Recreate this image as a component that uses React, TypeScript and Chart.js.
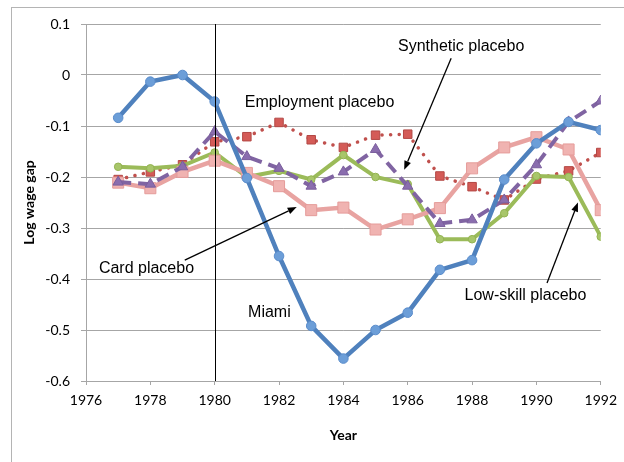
import React, { useEffect, useRef } from "react";
import { Chart, registerables } from "chart.js";

Chart.register(...registerables);

const years = [1977, 1978, 1979, 1980, 1981, 1982, 1983, 1984, 1985, 1986, 1987, 1988, 1989, 1990, 1991, 1992];
const miami = [-0.084, -0.013, 0.0, -0.052, -0.202, -0.355, -0.492, -0.556, -0.5, -0.466, -0.382, -0.363, -0.205, -0.134, -0.092, -0.108];
const employmentPlacebo = [-0.205, -0.19, -0.176, -0.131, -0.121, -0.093, -0.127, -0.142, -0.118, -0.116, -0.198, -0.219, -0.245, -0.204, -0.188, -0.152];
const syntheticPlacebo = [-0.21, -0.214, -0.18, -0.111, -0.16, -0.183, -0.218, -0.19, -0.146, -0.218, -0.291, -0.284, -0.245, -0.176, -0.092, -0.051];
const lowSkillPlacebo = [-0.18, -0.183, -0.178, -0.152, -0.2, -0.188, -0.205, -0.157, -0.2, -0.214, -0.322, -0.322, -0.271, -0.198, -0.2, -0.317];
const cardPlacebo = [-0.211, -0.222, -0.19, -0.168, -0.192, -0.218, -0.265, -0.26, -0.303, -0.283, -0.261, -0.183, -0.142, -0.122, -0.146, -0.265];

const xTicks = { min: 1976, max: 1992, step: 2 };
const yTicks = { min: -0.6, max: 0.1, step: 0.1 };
const treatmentYear = 1980;

// annotation labels in data coordinates
const labels = [
  { text: "Synthetic placebo", x: 1987.66, y: 0.055 },
  { text: "Employment placebo", x: 1983.26, y: -0.054 },
  { text: "Card placebo", x: 1977.88, y: -0.38 },
  { text: "Miami", x: 1981.7, y: -0.465 },
  { text: "Low-skill placebo", x: 1989.66, y: -0.433 },
];
const arrows = [
  { x1: 1987.35, y1: 0.033, x2: 1985.89, y2: -0.186 },
  { x1: 1979.07, y1: -0.363, x2: 1982.55, y2: -0.259 },
  { x1: 1990.33, y1: -0.408, x2: 1991.29, y2: -0.25 },
];

const pts = (vals: number[]) => vals.map((v, i) => ({ x: years[i], y: v }));

export default function App() {
  const ref = useRef<HTMLCanvasElement | null>(null);

  useEffect(() => {
    document.body.style.margin = "0";
    const canvas = ref.current;
    if (!canvas) return;

    const overlay = {
      id: "overlay",
      afterDatasetsDraw(chart: any) {
        const ctx = chart.ctx;
        const xs = chart.scales.x;
        const ys = chart.scales.y;
        const area = chart.chartArea;
        ctx.save();
        // treatment year line
        const vx = Math.round(xs.getPixelForValue(treatmentYear)) + 0.5;
        ctx.strokeStyle = "#000";
        ctx.lineWidth = 1;
        ctx.beginPath();
        ctx.moveTo(vx, area.top);
        ctx.lineTo(vx, area.bottom);
        ctx.stroke();
        ctx.restore();
      },
      afterDraw(chart: any) {
        const ctx = chart.ctx;
        const xs = chart.scales.x;
        const ys = chart.scales.y;
        const area = chart.chartArea;
        ctx.save();
        ctx.fillStyle = "#000";
        ctx.font = '16px "Liberation Sans", Arial, sans-serif';
        ctx.textAlign = "center";
        ctx.textBaseline = "middle";
        for (const l of labels) {
          ctx.fillText(l.text, xs.getPixelForValue(l.x), ys.getPixelForValue(l.y));
        }
        ctx.strokeStyle = "#000";
        ctx.lineWidth = 1.3;
        for (const a of arrows) {
          const x1 = xs.getPixelForValue(a.x1);
          const y1 = ys.getPixelForValue(a.y1);
          const x2 = xs.getPixelForValue(a.x2);
          const y2 = ys.getPixelForValue(a.y2);
          const ang = Math.atan2(y2 - y1, x2 - x1);
          const hl = 9;
          const hw = 3.5;
          const bx = x2 - hl * Math.cos(ang);
          const by = y2 - hl * Math.sin(ang);
          ctx.beginPath();
          ctx.moveTo(x1, y1);
          ctx.lineTo(bx, by);
          ctx.stroke();
          ctx.beginPath();
          ctx.moveTo(x2, y2);
          ctx.lineTo(bx + hw * Math.sin(ang), by - hw * Math.cos(ang));
          ctx.lineTo(bx - hw * Math.sin(ang), by + hw * Math.cos(ang));
          ctx.closePath();
          ctx.fill();
        }
        // axis titles
        ctx.font = 'bold 14px Lato, "Open Sans", sans-serif';
        ctx.fillText("Year", (area.left + area.right) / 2, 435);
        ctx.translate(29, (area.top + area.bottom) / 2);
        ctx.rotate(-Math.PI / 2);
        ctx.fillText("Log wage gap", 0, 0);
        ctx.restore();
      },
    };

    const chart = new Chart(canvas, {
      type: "line",
      data: {
        datasets: [
          {
            label: "Miami",
            data: pts(miami),
            borderColor: "#4F81BD",
            borderWidth: 4.5,
            pointStyle: "circle",
            pointRadius: 4.8,
            pointBackgroundColor: "#6C9ED8",
            pointBorderColor: "#5A8CCB",
            pointBorderWidth: 1,
            order: 0,
          },
          {
            label: "Synthetic placebo",
            data: pts(syntheticPlacebo),
            borderColor: "#8064A2",
            borderWidth: 4,
            borderDash: [13, 7],
            pointStyle: "triangle",
            pointRadius: 6,
            pointBackgroundColor: "#8A6DAE",
            pointBorderColor: "#7A5E9C",
            pointBorderWidth: 1,
            order: 1,
          },
          {
            label: "Card placebo",
            data: pts(cardPlacebo),
            borderColor: "#E8A3A1",
            borderWidth: 4.5,
            pointStyle: "rect",
            pointRadius: 7.8,
            pointBackgroundColor: "#F0B3B1",
            pointBorderColor: "#E59C9A",
            pointBorderWidth: 1,
            order: 2,
          },
          {
            label: "Low-skill placebo",
            data: pts(lowSkillPlacebo),
            borderColor: "#9BBB59",
            borderWidth: 4,
            pointStyle: "circle",
            pointRadius: 3.8,
            pointBackgroundColor: "#A8C66A",
            pointBorderColor: "#93B352",
            pointBorderWidth: 1,
            order: 3,
          },
          {
            label: "Employment placebo",
            data: pts(employmentPlacebo),
            borderColor: "#C0504D",
            borderWidth: 3.5,
            borderDash: [0.1, 8.5],
            borderCapStyle: "round",
            pointStyle: "rect",
            pointRadius: 6,
            pointBackgroundColor: "#D45B57",
            pointBorderColor: "#B34845",
            pointBorderWidth: 1,
            order: 4,
          },
        ],
      },
      options: {
        animation: false,
        responsive: false,
        maintainAspectRatio: false,
        events: [],
        layout: { padding: { top: 24, right: 22, bottom: 0, left: 0 } },
        plugins: {
          legend: { display: false },
          tooltip: { enabled: false },
          title: { display: false },
        },
        elements: { line: { tension: 0 } },
        scales: {
          x: {
            type: "linear",
            min: xTicks.min,
            max: xTicks.max,
            afterFit: (s: any) => {
              s.height = 81;
            },
            border: { color: "#A6A6A6", width: 1 },
            grid: { drawOnChartArea: false, drawTicks: true, tickLength: 4, color: "#A6A6A6" },
            ticks: {
              stepSize: xTicks.step,
              autoSkip: false,
              maxRotation: 0,
              padding: 7,
              color: "#000",
              font: { family: 'Lato, "Open Sans", sans-serif', size: 14 },
              callback: (v: any) => String(v),
            },
          },
          y: {
            type: "linear",
            min: yTicks.min,
            max: yTicks.max,
            afterFit: (s: any) => {
              s.width = 86;
            },
            border: { color: "#A6A6A6", width: 1 },
            grid: { color: "#A6A6A6", tickLength: 5, lineWidth: 1 },
            ticks: {
              stepSize: yTicks.step,
              padding: 11,
              color: "#000",
              font: { family: 'Lato, "Open Sans", sans-serif', size: 14 },
              callback: (v: any) => String(Math.round(Number(v) * 10) / 10),
            },
          },
        },
      },
      plugins: [overlay],
    } as any);

    return () => chart.destroy();
  }, []);

  return (
    <div style={{ position: "relative", width: 624, height: 462, overflow: "hidden", background: "#fff" }}>
      <div
        style={{
          position: "absolute",
          left: 11,
          top: 7,
          width: 700,
          height: 600,
          borderLeft: "1px solid #B4B4B4",
          borderTop: "1px solid #B4B4B4",
        }}
      />
      <canvas ref={ref} width={624} height={462} style={{ position: "absolute", left: 0, top: 0, width: 624, height: 462 }} />
    </div>
  );
}
